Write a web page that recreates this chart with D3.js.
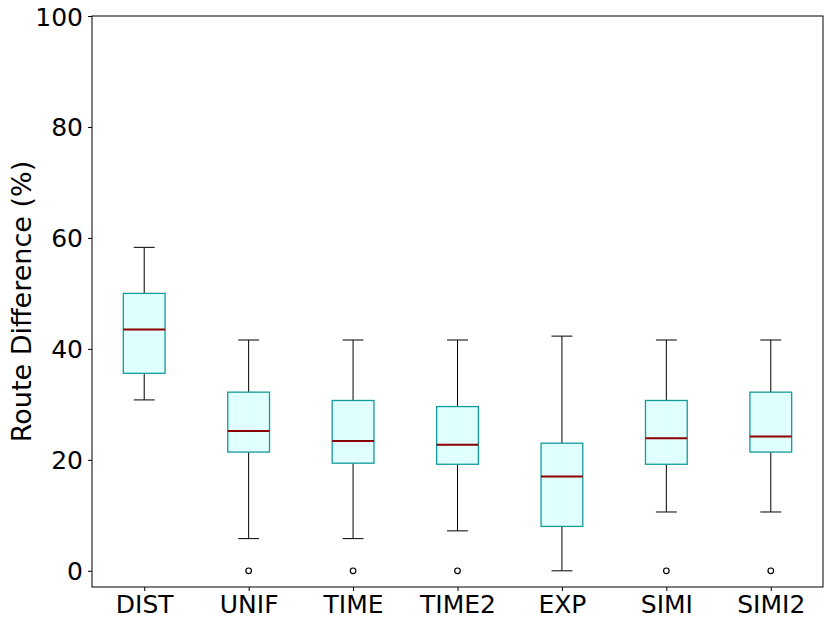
<!DOCTYPE html>
<html>
<head>
<meta charset="utf-8">
<script src="https://cdn.jsdelivr.net/npm/d3@7"></script>
<style>
  body { margin: 0; background: #fff; }
  svg text { font-family: "DejaVu Sans", sans-serif; }
</style>
</head>
<body>
<div id="chart"></div>
<script>
// box stats (percent)
var methods = ["DIST", "UNIF", "TIME", "TIME2", "EXP", "SIMI", "SIMI2"];
var whiskLow = [30.8, 5.8, 5.8, 7.2, 0.0, 10.6, 10.6];
var q1 = [35.6, 21.4, 19.4, 19.2, 8.0, 19.2, 21.4];
var median = [43.5, 25.2, 23.4, 22.7, 17.0, 23.9, 24.2];
var q3 = [50.0, 32.2, 30.7, 29.6, 23.0, 30.7, 32.2];
var whiskHigh = [58.3, 41.6, 41.6, 41.6, 42.3, 41.6, 41.6];
var outliers = [[], [0], [0], [0], [], [0], [0]];
var yTicks = [0, 20, 40, 60, 80, 100];

function drawBoxes() {
  var width = 830, height = 625;
  var margin = { top: 16, right: 7, bottom: 38, left: 92 };
  var w = width - margin.left - margin.right,
      h = height - margin.top - margin.bottom;

  var svg = d3.select("#chart").append("svg")
      .attr("width", width)
      .attr("height", height)
    .append("g")
      .attr("transform", "translate(" + margin.left + "," + margin.top + ")");

  var x = d3.scaleLinear().domain([0.5, methods.length + 0.5]).range([0, w]);
  var y = d3.scaleLinear().domain([-2.92, 100]).range([h, 0]);

  var boxW = x(1.2) - x(0.8);
  var capW = boxW / 2;

  var data = methods.map(function(m, i) {
    return { name: m, pos: i + 1, lo: whiskLow[i], q1: q1[i], med: median[i],
             q3: q3[i], hi: whiskHigh[i], out: outliers[i] };
  });

  var groups = svg.selectAll(".box")
      .data(data)
    .enter().append("g")
      .attr("class", "box");

  // whiskers
  groups.append("line")
      .attr("x1", function(d) { return x(d.pos); })
      .attr("x2", function(d) { return x(d.pos); })
      .attr("y1", function(d) { return y(d.q1); })
      .attr("y2", function(d) { return y(d.lo); })
      .style("stroke", "#000").style("stroke-width", 1);
  groups.append("line")
      .attr("x1", function(d) { return x(d.pos); })
      .attr("x2", function(d) { return x(d.pos); })
      .attr("y1", function(d) { return y(d.q3); })
      .attr("y2", function(d) { return y(d.hi); })
      .style("stroke", "#000").style("stroke-width", 1);

  // caps
  groups.append("line")
      .attr("x1", function(d) { return x(d.pos) - capW / 2; })
      .attr("x2", function(d) { return x(d.pos) + capW / 2; })
      .attr("y1", function(d) { return y(d.lo); })
      .attr("y2", function(d) { return y(d.lo); })
      .style("stroke", "#000").style("stroke-width", 1);
  groups.append("line")
      .attr("x1", function(d) { return x(d.pos) - capW / 2; })
      .attr("x2", function(d) { return x(d.pos) + capW / 2; })
      .attr("y1", function(d) { return y(d.hi); })
      .attr("y2", function(d) { return y(d.hi); })
      .style("stroke", "#000").style("stroke-width", 1);

  // box
  groups.append("rect")
      .attr("x", function(d) { return x(d.pos) - boxW / 2; })
      .attr("y", function(d) { return y(d.q3); })
      .attr("width", boxW)
      .attr("height", function(d) { return y(d.q1) - y(d.q3); })
      .style("fill", "#e0ffff")
      .style("stroke", "#129b9b")
      .style("stroke-width", 1.3);

  // median
  groups.append("line")
      .attr("x1", function(d) { return x(d.pos) - boxW / 2; })
      .attr("x2", function(d) { return x(d.pos) + boxW / 2; })
      .attr("y1", function(d) { return y(d.med); })
      .attr("y2", function(d) { return y(d.med); })
      .style("stroke", "#8b0000").style("stroke-width", 2);

  // fliers
  groups.selectAll(".flier")
      .data(function(d) { return d.out.map(function(v) { return { pos: d.pos, v: v }; }); })
    .enter().append("circle")
      .attr("class", "flier")
      .attr("cx", function(d) { return x(d.pos); })
      .attr("cy", function(d) { return y(d.v); })
      .attr("r", 2.8)
      .style("fill", "none")
      .style("stroke", "#000")
      .style("stroke-width", 1.2);

  // axes
  var yAxis = d3.axisLeft(y).tickValues(yTicks).tickSize(4).tickPadding(5).tickSizeOuter(0);
  var xAxis = d3.axisBottom(x).tickValues(d3.range(1, methods.length + 1))
      .tickFormat(function(d) { return methods[d - 1]; })
      .tickSize(4).tickPadding(4).tickSizeOuter(0);

  var gy = svg.append("g").call(yAxis);
  var gx = svg.append("g").attr("transform", "translate(0," + h + ")").call(xAxis);
  [gy, gx].forEach(function(g) {
    g.select(".domain").remove();
    g.selectAll("text").style("font-size", "25px").style("fill", "#000");
    g.selectAll("line").style("stroke", "#000");
  });
  gy.selectAll("text").attr("dy", "0.36em");

  // frame
  svg.append("rect")
      .attr("x", 0).attr("y", 0)
      .attr("width", w).attr("height", h)
      .style("fill", "none")
      .style("stroke", "#000")
      .style("stroke-width", 1);

  svg.append("text")
      .attr("transform", "translate(" + (21 - margin.left) + "," + (h / 2) + ") rotate(-90)")
      .attr("text-anchor", "middle")
      .attr("dy", "0.36em")
      .style("font-size", "27px")
      .text("Route Difference (%)");
}

drawBoxes();
</script>
</body>
</html>
